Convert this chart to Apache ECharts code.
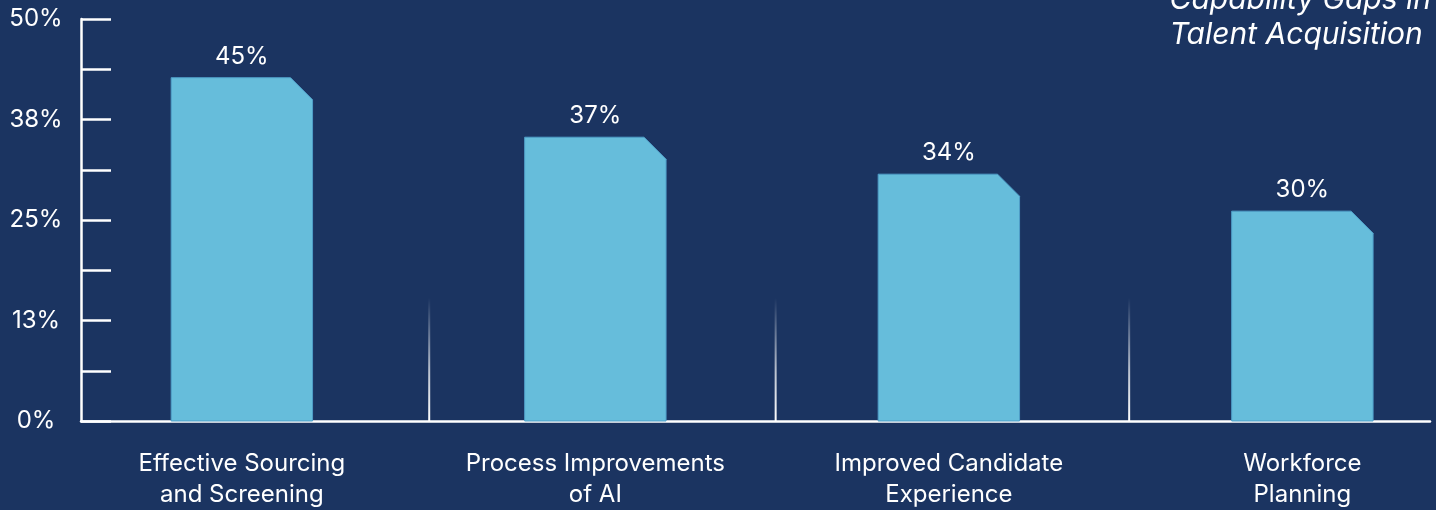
<!DOCTYPE html>
<html>
<head>
<meta charset="utf-8">
<title>Capability Gaps in Talent Acquisition</title>
<script src="https://cdn.jsdelivr.net/npm/echarts@6/dist/echarts.min.js"></script>
<style>
  html, body { margin: 0; padding: 0; background: #1b3461; }
  #chart { width: 1436px; height: 510px; }
</style>
</head>
<body>
<div id="chart"></div>
<script>
// categories under the x axis
const categories = [
  'Effective Sourcing\nand Screening',
  'Process Improvements\nof AI',
  'Improved Candidate\nExperience',
  'Workforce\nPlanning'
]
// value printed above each bar
const labelValues = [45, 37, 34, 30]
// bar height as drawn against the left axis
const barValues = [42.7, 35.3, 30.7, 26.1]
// faded separators between categories (category units)
const separatorPositions = [0.53, 1.51, 2.51]
// y tick labels, one per 12.5
const yTickLabels = ['0%', '13%', '25%', '38%', '50%']

const chart = echarts.init(document.getElementById('chart'))

const FONT = 'Inter'
const barColor = '#66bddb'

function renderBar(params, api) {
  const x = api.value(0)
  const v = api.value(1)
  const base = api.coord([x, 0])
  const top = api.coord([x, v])
  const w = api.size([0.4, 0])[0]
  const cut = 22
  const l = base[0] - w / 2
  const r = base[0] + w / 2
  return {
    type: 'group',
    children: [
      {
        type: 'polygon',
        shape: {
          points: [[l, base[1]], [l, top[1]], [r - cut, top[1]], [r, top[1] + cut], [r, base[1]]]
        },
        style: { fill: barColor, stroke: '#4f9ec8', lineWidth: 1 }
      },
      {
        type: 'text',
        x: base[0],
        y: top[1] - 9,
        style: {
          text: api.value(2) + '%',
          fill: '#ffffff',
          font: '400 24px ' + FONT,
          align: 'center',
          verticalAlign: 'bottom'
        }
      }
    ]
  }
}

function renderSeparator(params, api) {
  const p = api.value(0)
  const bottom = api.coord([p, 0])
  const top = api.coord([p, 15.3])
  return {
    type: 'rect',
    shape: { x: bottom[0] - 1, y: top[1], width: 2, height: bottom[1] - top[1] },
    style: {
      fill: new echarts.graphic.LinearGradient(0, 0, 0, 1, [
        { offset: 0, color: 'rgba(255,255,255,0)' },
        { offset: 0.6, color: 'rgba(255,255,255,0.7)' },
        { offset: 1, color: 'rgba(255,255,255,1)' }
      ])
    }
  }
}

const option = {
  backgroundColor: '#1b3461',
  animation: false,
  graphic: [
    {
      type: 'text',
      right: 5,
      top: -18,
      style: {
        text: 'Capability Gaps in\nTalent Acquisition',
        fill: '#ffffff',
        font: 'italic 400 30px ' + FONT,
        lineHeight: 35,
        align: 'right'
      }
    }
  ],
  grid: {
    left: 81,
    right: 6,
    top: 19,
    bottom: 89,
    containLabel: false,
    outerBoundsMode: 'none'
  },
  xAxis: {
    type: 'value',
    min: -0.455,
    max: 3.361,
    axisLine: { show: true, onZero: false, lineStyle: { color: '#ffffff', width: 2.5 } },
    axisTick: { show: false },
    splitLine: { show: false },
    axisLabel: {
      customValues: [0, 1, 2, 3],
      formatter: v => categories[Math.round(v)],
      color: '#ffffff',
      fontFamily: FONT,
      fontSize: 24,
      lineHeight: 31,
      margin: 27
    }
  },
  yAxis: {
    type: 'value',
    min: 0,
    max: 50,
    interval: 6.25,
    axisLine: { show: true, onZero: false, lineStyle: { color: '#ffffff', width: 2.5 } },
    axisTick: { show: true, inside: true, length: 30, lineStyle: { color: '#ffffff', width: 2.5 } },
    splitLine: { show: false },
    axisLabel: {
      formatter: v => {
        const k = v / 12.5
        return Number.isInteger(k) ? yTickLabels[k] : ''
      },
      color: '#ffffff',
      fontFamily: FONT,
      fontSize: 24,
      align: 'center',
      margin: 45,
      padding: [4, 0, 0, 0]
    }
  },
  series: [
    {
      type: 'custom',
      renderItem: renderSeparator,
      data: separatorPositions.map(p => [p]),
      z: 1
    },
    {
      type: 'custom',
      renderItem: renderBar,
      data: barValues.map((v, i) => [i, v, labelValues[i]]),
      z: 2
    }
  ]
}

chart.setOption(option)
</script>
</body>
</html>
